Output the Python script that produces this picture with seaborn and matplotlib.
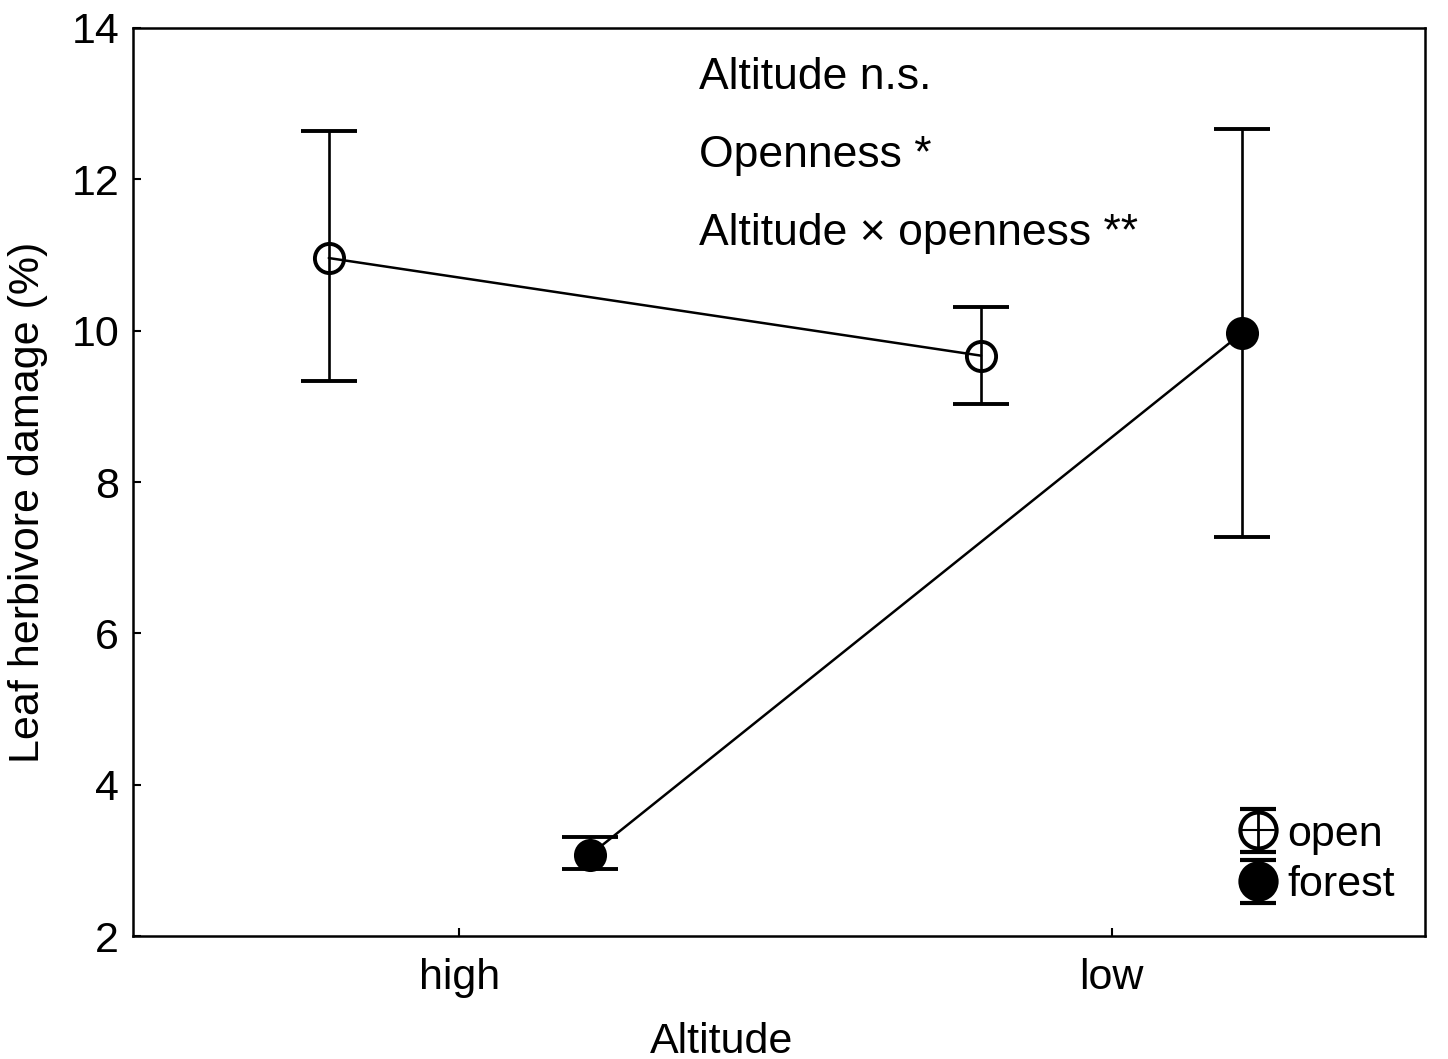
import numpy as np
import pandas as pd
import matplotlib
matplotlib.use("Agg")
import matplotlib.pyplot as plt
import seaborn as sns

# ---- data ----
altitudes = ["high", "low"]
groups = ["open", "forest"]
open_mean = [10.96, 9.67]
open_lo = [9.34, 9.03]
open_hi = [12.64, 10.31]
forest_mean = [3.07, 9.97]
forest_lo = [2.89, 7.27]
forest_hi = [3.31, 12.67]
annotations = ["Altitude n.s.", "Openness *", "Altitude \u00d7 openness **"]

sns.set_theme(style="ticks")
plt.rcParams["font.family"] = ["Liberation Sans", "DejaVu Sans"]
plt.rcParams["text.color"] = "black"
plt.rcParams["axes.labelcolor"] = "black"

offsets = {"open": -0.2, "forest": 0.2}
rows = []
for g, m, lo, hi in [("open", open_mean, open_lo, open_hi),
                     ("forest", forest_mean, forest_lo, forest_hi)]:
    for i, a in enumerate(altitudes):
        rows.append(dict(group=g, altitude=a, x=i + offsets[g], mean=m[i], lo=lo[i], hi=hi[i]))
df = pd.DataFrame(rows)

fig = plt.figure(figsize=(14.48, 10.59), dpi=100)
ax = fig.add_axes([0.0919, 0.116, 0.892, 0.8576])

sns.lineplot(data=df, x="x", y="mean", units="group", estimator=None,
             color="black", linewidth=1.8, ax=ax, legend=False, zorder=2)

face = {"open": "none", "forest": "black"}
for g in groups:
    d = df[df.group == g]
    ax.errorbar(d["x"], d["mean"], yerr=[d["mean"] - d["lo"], d["hi"] - d["mean"]],
                fmt="o", color="black", mfc=face[g], mec="black", mew=2.8,
                ms=21, capsize=20, elinewidth=1.9, capthick=1.9, zorder=3)

# legend proxies
handles = []
for g in groups:
    h = ax.errorbar([np.nan], [np.nan], yerr=[[1], [1]], fmt="o", linestyle="-",
                    color="black", mfc=face[g], mec="black", mew=3, ms=26,
                    capsize=13, elinewidth=2, capthick=2.5, label=g)
    handles.append(h)
ax.legend(handles=handles, labels=groups, loc="lower right", frameon=False,
          fontsize=31, handlelength=0.75, handletextpad=0.3, labelspacing=0.25,
          borderaxespad=0.0, bbox_to_anchor=(0.99, 0.015))

ax.set_xlim(-0.5, 1.48)
ax.set_ylim(2, 14)
ax.set_xticks(range(len(altitudes)))
ax.set_xticklabels(altitudes)
ax.set_yticks(np.arange(2, 15, 2))
ax.tick_params(direction="in", length=6, width=1.5, labelsize=31, colors="black")
ax.tick_params(axis="x", pad=16)
ax.tick_params(axis="y", pad=10)
for s in ax.spines.values():
    s.set_visible(True)
    s.set_linewidth(1.8)
    s.set_color("black")

ax.set_xlabel("Altitude", fontsize=31)
ax.set_ylabel("Leaf herbivore damage (%)", fontsize=31)
ax.xaxis.set_label_coords(0.456, -0.094)
ax.yaxis.set_label_coords(-0.066, 0.478)

for txt, yy in zip(annotations, [0.946, 0.860, 0.774]):
    ax.text(0.438, yy, txt, transform=ax.transAxes, fontsize=32, va="center", ha="left")

fig.savefig("out.png", dpi=100, facecolor="white")
